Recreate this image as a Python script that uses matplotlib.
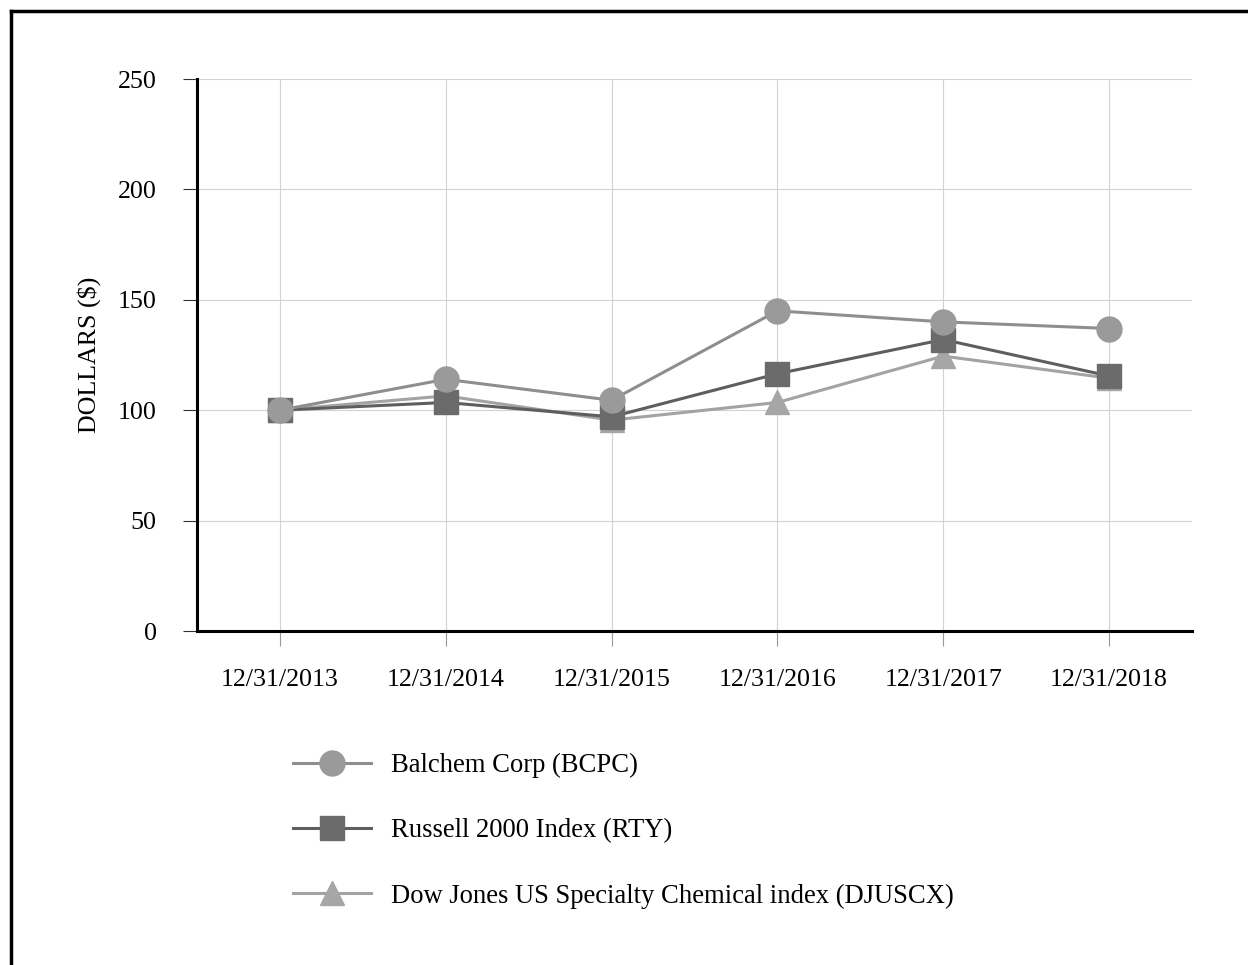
import matplotlib.pyplot as plt
from matplotlib.lines import Line2D

# ---- data ----
dates = ["12/31/2013", "12/31/2014", "12/31/2015", "12/31/2016", "12/31/2017", "12/31/2018"]
bcpc = [100, 114, 104.5, 145, 140, 137]
rty = [100, 103.5, 97, 116.5, 132, 115.5]
djuscx = [100, 106.5, 95.5, 103.5, 124.5, 114.5]
labels = ["Balchem Corp (BCPC)", "Russell 2000 Index (RTY)",
          "Dow Jones US Specialty Chemical index (DJUSCX)"]
yticks = [0, 50, 100, 150, 200, 250]

plt.rcParams['font.family'] = ['Liberation Serif', 'DejaVu Serif']
FS = 18.7

fig = plt.figure(figsize=(12.48, 9.65), dpi=100)
ax = fig.add_axes([197/1248, 1-631/965, (1192-197)/1248, (631-79)/965])

x = list(range(len(dates)))
# drawing order: triangle at bottom, squares, circles on top
ax.plot(x, djuscx, color='#a3a3a3', lw=2.2, marker='^', ms=17,
        mfc='#a6a6a6', mec='#a6a6a6', zorder=3)
ax.plot(x, rty, color='#5e5e5e', lw=2.2, marker='s', ms=17,
        mfc='#6b6b6b', mec='#6b6b6b', zorder=4)
ax.plot(x, bcpc, color='#8e8e8e', lw=2.2, marker='o', ms=18,
        mfc='#9a9a9a', mec='#9a9a9a', zorder=5)

ax.set_xlim(-0.5, len(dates) - 0.5)
ax.set_ylim(0, 250)
ax.set_xticks(x)
ax.set_xticklabels(dates, fontsize=FS)
ax.set_yticks(yticks)
ax.set_yticklabels([str(v) for v in yticks], fontsize=FS)
ax.tick_params(axis='x', length=11, width=0.8, color='#999999', pad=16)
ax.tick_params(axis='y', length=10, width=0.8, color='#333333', pad=19)
ax.grid(True, color='#d2d2d2', lw=0.8)
ax.set_axisbelow(True)
for s in ['top', 'right']:
    ax.spines[s].set_visible(False)
for s in ['left', 'bottom']:
    ax.spines[s].set_linewidth(2.2)
    ax.spines[s].set_color('black')
ax.set_ylabel("DOLLARS ($)", fontsize=FS, labelpad=12)

handles = [
    Line2D([], [], color='#8e8e8e', lw=2.2, marker='o', ms=18, mfc='#9a9a9a', mec='#9a9a9a'),
    Line2D([], [], color='#5e5e5e', lw=2.2, marker='s', ms=17, mfc='#6b6b6b', mec='#6b6b6b'),
    Line2D([], [], color='#a3a3a3', lw=2.2, marker='^', ms=17, mfc='#a6a6a6', mec='#a6a6a6'),
]
fig.legend(handles, labels, loc='upper left', bbox_to_anchor=(280/1248, 1-740/965),
           frameon=False, fontsize=19.2, handlelength=2.9, handletextpad=0.78,
           labelspacing=1.5, borderpad=0)

# outer frame (left and top edges visible)
fig.add_artist(Line2D([11/1248, 11/1248], [0, 1-11/965], transform=fig.transFigure,
                      color='black', lw=2.5))
fig.add_artist(Line2D([11/1248, 1], [1-11/965, 1-11/965], transform=fig.transFigure,
                      color='black', lw=2.5))

fig.savefig("out.png", dpi=100, facecolor='white')
